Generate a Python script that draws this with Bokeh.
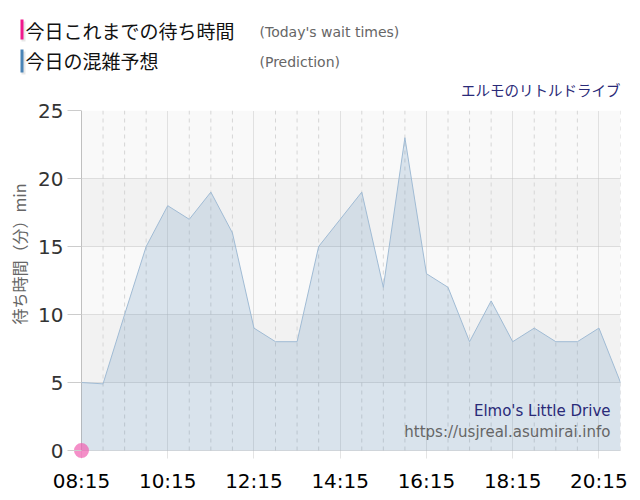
from bokeh.plotting import figure
from bokeh.layouts import column
from bokeh.models import Label, FixedTicker, BoxAnnotation, ColumnDataSource, Range1d, Title
from bokeh.core.properties import value
from bokeh.embed import file_html
from bokeh.resources import INLINE

# ---- data ----
times = ["08:15", "08:45", "09:15", "09:45", "10:15", "10:45", "11:15", "11:45",
         "12:15", "12:45", "13:15", "13:45", "14:15", "14:45", "15:15", "15:45",
         "16:15", "16:45", "17:15", "17:45", "18:15", "18:45", "19:15", "19:45",
         "20:15", "20:45"]
prediction = [5, 4.9, 10, 15, 18, 17, 19, 16, 9, 8, 8, 15, 17, 19, 12, 23,
              13, 12, 8, 11, 8, 9, 8, 8, 9, 5]
today_times = ["08:15"]
today_values = [0]
tick_labels = ["08:15", "10:15", "12:15", "14:15", "16:15", "18:15", "20:15"]
y_ticks = [0, 5, 10, 15, 20, 25]

legend_ja = ["今日これまでの待ち時間", "今日の混雑予想"]
legend_en = ["(Today's wait times)", "(Prediction)"]
legend_colors = ["#f0188c", "#4a84b6"]
attraction = "エルモのリトルドライブ"
credit_name = "Elmo's Little Drive"
credit_url = "https://usjreal.asumirai.info"
y_title = "待ち時間（分）min"


def to_hours(t):
    h, m = t.split(":")
    return int(h) + int(m) / 60.0


xs = [to_hours(t) for t in times]
tick_x = [to_hours(t) for t in tick_labels]
minor_x = [x for x in xs if x not in tick_x]

W = 640
TOP_H = 99
MAIN_H = 500 - TOP_H

# ---------- header (legend) ----------
top = figure(width=W, height=TOP_H, output_backend="svg", toolbar_location=None,
             x_range=Range1d(0, W), y_range=Range1d(TOP_H, 0),
             min_border=0, min_border_left=0, min_border_right=0,
             min_border_top=0, min_border_bottom=0, frame_align=False)
top.axis.visible = False
top.grid.visible = False
top.outline_line_color = None
top.background_fill_color = "white"
top.border_fill_color = "white"

row_y = [30, 60]
top.quad(left=[21, 21], right=[25, 25], top=[21, 51], bottom=[41, 74],
         fill_color="#d0d0d0", fill_alpha=0.5, line_color=None)
top.quad(left=[20, 20], right=[23, 23], top=[19, 49], bottom=[39, 72],
         fill_color=legend_colors, line_color=None)
top.text(x=[25, 25], y=row_y, text=legend_ja, text_font=value("Noto Sans CJK JP"),
         text_font_size="19px", text_color="#111111", text_baseline="middle",
         text_align="left")
top.text(x=[259, 259], y=[r + 1 for r in row_y], text=legend_en, text_font=value("DejaVu Sans"),
         text_font_size="14px", text_color="#666666", text_baseline="middle",
         text_align="left")
top.text(x=[620], y=[89], text=[attraction], text_font=value("Noto Sans CJK JP"),
         text_font_size="14.5px", text_color="#2a2a78", text_baseline="middle",
         text_align="right")

# ---------- main chart ----------
PAD = 8  # px of frame beyond the axes so the marker at the origin is not cut
x_px = 540.0 / (xs[-1] - xs[0])
y_px = 340.0 / 25.0
p = figure(width=W, height=MAIN_H, output_backend="svg", toolbar_location=None,
           x_range=Range1d(xs[0] - PAD / x_px, xs[-1]),
           y_range=Range1d(-PAD / y_px, 25),
           min_border_left=72, min_border_right=20,
           min_border_top=110 - TOP_H, min_border_bottom=42, frame_align=False)
p.outline_line_color = None
p.background_fill_color = "white"
p.border_fill_color = "white"

# alternating bands
for i in range(len(y_ticks) - 1):
    p.add_layout(BoxAnnotation(left=xs[0], right=xs[-1], bottom=y_ticks[i], top=y_ticks[i + 1],
                               fill_color="#f2f2f2" if i % 2 else "#f9f9f9",
                               fill_alpha=1, line_color=None, level="image"))

# minor vertical grid (dashed)
p.segment(x0=minor_x, y0=[0] * len(minor_x), x1=minor_x, y1=[25] * len(minor_x),
          line_color="#d6d6d6", line_dash="4 4", line_width=1, level="underlay")
# y axis line
p.segment(x0=[xs[0]], y0=[0], x1=[xs[0]], y1=[25], line_color="#c0c0c0", line_width=1)

src = ColumnDataSource(dict(x=xs, y=prediction, y0=[0] * len(xs)))
p.varea(x="x", y1="y0", y2="y", source=src, fill_color="#4682b4", fill_alpha=0.18)
p.line(x="x", y="y", source=src, line_color="#a0bbd4", line_width=1)

p.scatter(x=[to_hours(t) for t in today_times], y=today_values, size=15,
          fill_color="#f060b0", fill_alpha=0.7, line_color=None)

# axes
p.xaxis.ticker = FixedTicker(ticks=tick_x)
p.xaxis.major_label_overrides = {tx: lab for tx, lab in zip(tick_x, tick_labels)}
p.xaxis.major_label_text_font = "DejaVu Sans"
p.xaxis.major_label_text_font_size = "20px"
p.xaxis.major_label_text_color = "#000000"
p.xaxis.axis_line_color = None
p.xaxis.major_tick_line_color = None
p.xaxis.minor_tick_line_color = None
p.xaxis.major_label_standoff = 4

p.yaxis.ticker = FixedTicker(ticks=y_ticks)
p.yaxis.major_label_text_font = "DejaVu Sans"
p.yaxis.major_label_text_font_size = "20px"
p.yaxis.major_label_text_color = "#333333"
p.yaxis.axis_line_color = None
p.yaxis.major_tick_line_color = "#cccccc"
p.yaxis.major_tick_out = 6
p.yaxis.major_tick_in = 8
p.yaxis.minor_tick_line_color = None
p.yaxis.major_label_standoff = 4

p.add_layout(Title(text=y_title, align="right", offset=73, standoff=9,
                   text_font="Noto Sans CJK JP", text_font_size="16px",
                   text_font_style="normal", text_color="#666666"), "left")

p.xgrid.grid_line_color = "#c8c8c8"
p.xgrid.grid_line_dash = "1 1"
p.ygrid.grid_line_color = "#c0c0c0"
p.ygrid.grid_line_dash = "1 1"

# credit inside plot
p.add_layout(Label(x=610, y=410 - TOP_H, x_units="canvas", y_units="canvas", text=credit_name,
                   text_font="DejaVu Sans", text_font_size="15px", text_color="#2a2a78",
                   text_align="right", text_baseline="middle"))
p.add_layout(Label(x=610, y=431 - TOP_H, x_units="canvas", y_units="canvas", text=credit_url,
                   text_font="DejaVu Sans", text_font_size="15px", text_color="#666666",
                   text_align="right", text_baseline="middle"))

layout = column(top, p, spacing=0)
open("out.html", "w").write(file_html(layout, INLINE))
